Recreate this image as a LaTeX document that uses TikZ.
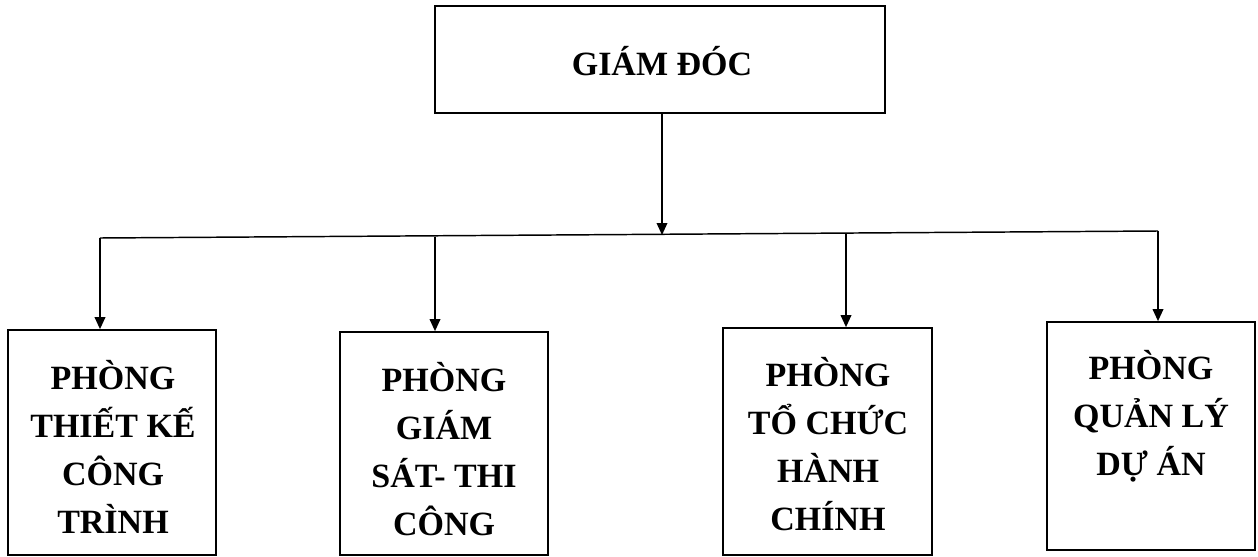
\documentclass[tikz,border=0pt]{standalone}
\usepackage{fontspec}
\setmainfont{Liberation Serif}
\usetikzlibrary{arrows.meta}
\begin{document}
\begin{tikzpicture}[x=0.75pt,y=-0.75pt,
  box/.style={draw=black,line width=1.3pt,inner sep=0pt},
  txt/.style={inner sep=0pt,font=\bfseries\fontsize{25.5}{36}\selectfont,align=center},
  conn/.style={line width=1.1pt},
  arr/.style={conn,-{Triangle[length=9pt,width=8pt]}}]
\useasboundingbox (0,0) rectangle (1258,557);
\node[box,minimum width=450*0.75pt,minimum height=107*0.75pt] (top) at (660,59.5) {};
\node[txt] (topt) at (662,61.5) {GIÁM ĐÓC};
\node[box,minimum width=208*0.75pt,minimum height=225*0.75pt] (b1) at (112,442.5) {};
\node[txt] (b1t) at (113,452) {\begin{tabular}{@{}c@{}}PHÒNG\\THIẾT KẾ\\CÔNG\\TRÌNH\end{tabular}};
\node[box,minimum width=208*0.75pt,minimum height=223*0.75pt] (b2) at (444,443.5) {};
\node[txt] (b2t) at (444,454) {\begin{tabular}{@{}c@{}}PHÒNG\\GIÁM\\SÁT- THI\\CÔNG\end{tabular}};
\node[box,minimum width=209*0.75pt,minimum height=227*0.75pt] (b3) at (827.5,441.5) {};
\node[txt] (b3t) at (828,449) {\begin{tabular}{@{}c@{}}PHÒNG\\TỔ CHỨC\\HÀNH\\CHÍNH\end{tabular}};
\node[box,minimum width=208*0.75pt,minimum height=228*0.75pt] (b4) at (1151,436) {};
\node[txt] (b4t) at (1151,418) {\begin{tabular}{@{}c@{}}PHÒNG\\QUẢN LÝ\\DỰ ÁN\end{tabular}};
\coordinate (jl) at (100,238);
\coordinate (jr) at (1158,231);
\coordinate (jm) at (662,235);
\coordinate (j2) at (435,236.5);
\coordinate (j3) at (846,233);
\draw[conn] (jl) -- (jr);
\draw[arr] (top.south -| jm) -- (jm);
\draw[arr] (jl) -- (jl |- b1.north);
\draw[arr] (j2) -- (j2 |- b2.north);
\draw[arr] (j3) -- (j3 |- b3.north);
\draw[arr] (jr) -- (jr |- b4.north);
\end{tikzpicture}
\end{document}
